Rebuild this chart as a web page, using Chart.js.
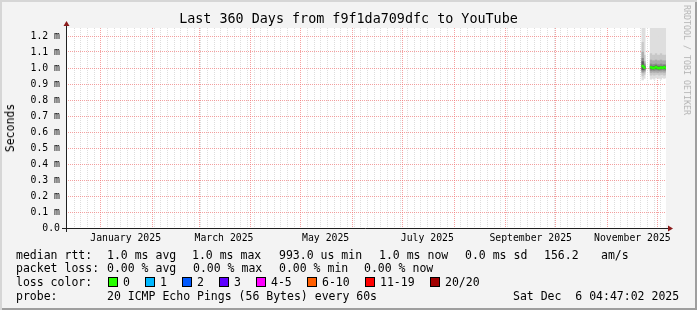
<!DOCTYPE html>
<html>
<head>
<meta charset="utf-8">
<script src="https://cdn.jsdelivr.net/npm/chart.js@4.4.1/dist/chart.umd.min.js"></script>
<style>
  body { margin: 0; background: #f3f3f3; }
  #wrap {
    position: relative; width: 697px; height: 310px; overflow: hidden;
    background: #f3f3f3;
    box-shadow: inset 2px 2px 0 #d6d6d6, inset -2px -2px 0 #9e9e9e;
    font-family: "DejaVu Sans Mono", monospace; color: #000;
  }
  #wrap canvas { position: absolute; left: 0; top: 0; }
  .t { position: absolute; white-space: pre; font-size: 11.5px; line-height: 14px; }
  .box { position: absolute; width: 8px; height: 8px; border: 1px solid #000; }
  .rot { position: absolute; white-space: pre; transform: translate(-50%, -50%) rotate(-90deg); }
</style>
</head>
<body>
<div id="wrap">
  <canvas id="chart" width="697" height="310"></canvas>

  <div class="t" style="left:0;width:697px;top:11px;text-align:center;font-size:13.4px;line-height:16px;">Last 360 Days from f9f1da709dfc to YouTube</div>
  <div class="rot" style="left:10px;top:128px;font-size:11.5px;">Seconds</div>
  <div class="rot" style="left:687px;top:60px;font-size:8.3px;color:#b4b4b4;transform:translate(-50%,-50%) rotate(90deg);">RRDTOOL / TOBI OETIKER</div>

  <!-- legend rows -->
  <div class="t" style="left:16px;top:248px;">median rtt:</div>
  <div class="t" style="left:107px;top:248px;">1.0 ms avg</div>
  <div class="t" style="left:192px;top:248px;">1.0 ms max</div>
  <div class="t" style="left:279px;top:248px;">993.0 us min</div>
  <div class="t" style="left:379px;top:248px;">1.0 ms now</div>
  <div class="t" style="left:465px;top:248px;">0.0 ms sd</div>
  <div class="t" style="left:544px;top:248px;">156.2</div>
  <div class="t" style="left:601px;top:248px;">am/s</div>

  <div class="t" style="left:16px;top:261px;">packet loss:</div>
  <div class="t" style="left:107px;top:261px;">0.00 % avg</div>
  <div class="t" style="left:193px;top:261px;">0.00 % max</div>
  <div class="t" style="left:279px;top:261px;">0.00 % min</div>
  <div class="t" style="left:364px;top:261px;">0.00 % now</div>

  <div class="t" style="left:16px;top:275px;">loss color:</div>
  <div class="box" style="left:108px;top:277px;background:#26ff00;"></div><div class="t" style="left:123px;top:275px;">0</div>
  <div class="box" style="left:145px;top:277px;background:#00b8ff;"></div><div class="t" style="left:160px;top:275px;">1</div>
  <div class="box" style="left:182px;top:277px;background:#0059ff;"></div><div class="t" style="left:197px;top:275px;">2</div>
  <div class="box" style="left:219px;top:277px;background:#5e00ff;"></div><div class="t" style="left:234px;top:275px;">3</div>
  <div class="box" style="left:256px;top:277px;background:#ff00ff;"></div><div class="t" style="left:271px;top:275px;">4-5</div>
  <div class="box" style="left:307px;top:277px;background:#ff5e00;"></div><div class="t" style="left:322px;top:275px;">6-10</div>
  <div class="box" style="left:365px;top:277px;background:#ff0000;"></div><div class="t" style="left:380px;top:275px;">11-19</div>
  <div class="box" style="left:430px;top:277px;background:#a10000;"></div><div class="t" style="left:445px;top:275px;">20/20</div>

  <div class="t" style="left:16px;top:289px;">probe:</div>
  <div class="t" style="left:107px;top:289px;">20 ICMP Echo Pings (56 Bytes) every 60s</div>
  <div class="t" style="left:513px;top:289px;">Sat Dec  6 04:47:02 2025</div>
</div>

<script>
// time window: 360 days ending Sat Dec 6 04:47:02 2025
const startTime = Date.UTC(2024, 11, 11, 4, 47, 2);
const spanDays = 360;

// month grid lines and the two-monthly labels (centred mid month)
const monthStarts = ["2025-01-01", "2025-02-01", "2025-03-01", "2025-04-01", "2025-05-01", "2025-06-01",
  "2025-07-01", "2025-08-01", "2025-09-01", "2025-10-01", "2025-11-01", "2025-12-01"];
const labelDates = ["2025-01-16", "2025-03-16", "2025-05-16", "2025-07-16", "2025-09-16", "2025-11-16"];
const monthLabels = ["January 2025", "March 2025", "May 2025", "July 2025", "September 2025", "November 2025"];
const minorFirst = "2024-12-16"; // minor grid every 4 days from here
const minorStep = 4;

// y axis in milliseconds
const yMax = 1.25;
const yTicks = [0, 0.1, 0.2, 0.3, 0.4, 0.5, 0.6, 0.7, 0.8, 0.9, 1.0, 1.1, 1.2];

// samples (days since start) with smoke bands, ms
const smokeDays = [346, 347, 351, 352, 353, 354, 355, 356, 357, 358, 359, 360];
const medianMs = [1.012, 1.003, 1.004, 1.000, 1.001, 1.006, 1.000, 0.999, 1.003, 1.001, 1.005, 1.000];
const band1Lo = [0.925, 0.935, 0.930, 0.935, 0.930, 0.940, 0.935, 0.935, 0.930, 0.940, 0.935, 0.940];
const band1Hi = [1.35, 1.35, 1.35, 1.35, 1.35, 1.35, 1.35, 1.35, 1.35, 1.35, 1.35, 1.35];
const band2Lo = [0.950, 0.960, 0.955, 0.960, 0.955, 0.960, 0.960, 0.955, 0.960, 0.960, 0.955, 0.960];
const band2Hi = [1.160, 1.080, 1.090, 1.080, 1.080, 1.090, 1.080, 1.080, 1.090, 1.080, 1.080, 1.080];
const band3Lo = [0.970, 0.975, 0.972, 0.975, 0.973, 0.975, 0.972, 0.975, 0.974, 0.975, 0.973, 0.975];
const band3Hi = [1.100, 1.040, 1.050, 1.045, 1.045, 1.050, 1.045, 1.045, 1.050, 1.045, 1.045, 1.045];
const band4Lo = [0.980, 0.985, 0.985, 0.987, 0.985, 0.988, 0.986, 0.985, 0.987, 0.988, 0.986, 0.987];
const band4Hi = [1.060, 1.025, 1.025, 1.020, 1.022, 1.025, 1.020, 1.020, 1.025, 1.020, 1.022, 1.020];
const band5Lo = [0.990, 0.993, 0.995, 0.994, 0.995, 0.996, 0.994, 0.994, 0.995, 0.995, 0.996, 0.994];
const band5Hi = [1.040, 1.012, 1.012, 1.008, 1.010, 1.014, 1.008, 1.007, 1.011, 1.009, 1.013, 1.008];

const dayOf = s => (Date.parse(s + "T00:00:00Z") - startTime) / 86400000;

const majorDays = monthStarts.map(dayOf);
const labelDays = labelDates.map(dayOf);
const minorDays = [];
for (let d = dayOf(minorFirst); d < spanDays; d += minorStep) {
  if (!majorDays.some(m => Math.abs(m - d) < 0.01)) minorDays.push(d);
}

const bandColors = ["#dedede", "#c8c8c8", "#ababab", "#8a8a8a", "#585858"];
const bands = [[band1Lo, band1Hi], [band2Lo, band2Hi], [band3Lo, band3Hi], [band4Lo, band4Hi], [band5Lo, band5Hi]];
const barWidth = 600 / spanDays;

const datasets = bands.map(([lo, hi], i) => ({
  label: "smoke " + i,
  data: smokeDays.map((d, k) => ({ x: d, y: [lo[k], hi[k]] })),
  backgroundColor: bandColors[i],
  order: 10 - i,
}));
datasets.push({
  label: "median rtt",
  data: smokeDays.map((d, k) => ({ x: d, y: [medianMs[k] - 0.006, medianMs[k] + 0.006] })),
  backgroundColor: "#26ff00",
  order: 0,
});
datasets.forEach(ds => Object.assign(ds, {
  grouped: false, barThickness: barWidth, borderWidth: 0, barPercentage: 1, categoryPercentage: 1,
}));

Chart.defaults.font.family = "'DejaVu Sans Mono', monospace";

// white canvas behind the plot
const plotBg = {
  id: "plotBg",
  beforeDraw(chart) {
    const { ctx, chartArea: a } = chart;
    ctx.save();
    ctx.fillStyle = "#ffffff";
    ctx.fillRect(a.left, a.top, a.right - a.left, a.bottom - a.top);
    ctx.restore();
  },
};

// rrdtool style axes with arrow heads
const rrdAxes = {
  id: "rrdAxes",
  afterDraw(chart) {
    const { ctx, chartArea: a } = chart;
    const x0 = a.left + 0.5, y0 = a.bottom + 0.5;
    ctx.save();
    ctx.strokeStyle = "#202020";
    ctx.lineWidth = 1;
    ctx.beginPath();
    ctx.moveTo(a.left - 4, y0); ctx.lineTo(a.right + 3, y0);
    ctx.moveTo(x0, a.bottom + 4); ctx.lineTo(x0, a.top - 2);
    ctx.stroke();
    ctx.fillStyle = "#8b1c1c";
    ctx.beginPath();
    ctx.moveTo(a.right + 7, y0); ctx.lineTo(a.right + 2, y0 - 3); ctx.lineTo(a.right + 2, y0 + 3);
    ctx.closePath(); ctx.fill();
    ctx.beginPath();
    ctx.moveTo(x0, a.top - 7); ctx.lineTo(x0 - 3, a.top - 2); ctx.lineTo(x0 + 3, a.top - 2);
    ctx.closePath(); ctx.fill();
    ctx.restore();
  },
};

new Chart(document.getElementById("chart"), {
  type: "bar",
  data: { datasets },
  options: {
    responsive: false,
    devicePixelRatio: 1,
    animation: false,
    layout: { padding: { top: 28, right: 31, bottom: 0, left: 0 } },
    plugins: { legend: { display: false }, tooltip: { enabled: false } },
    scales: {
      x: {
        type: "linear",
        min: 0,
        max: spanDays,
        offset: false,
        z: 1,
        afterBuildTicks: scale => {
          const t = [
            ...minorDays.map(v => ({ value: v, kind: "minor" })),
            ...majorDays.map(v => ({ value: v, kind: "major" })),
            ...labelDays.map((v, i) => ({ value: v, kind: "label", text: monthLabels[i] })),
          ];
          t.sort((p, q) => p.value - q.value);
          scale.ticks = t;
        },
        afterFit: scale => { scale.height = 82; },
        grid: {
          offset: false,
          drawTicks: false,
          lineWidth: 1,
          color: c => {
            const k = c.tick && c.tick.kind;
            if (k === "major") return "rgba(240,110,110,0.65)";
            if (k === "minor") return "rgba(180,180,180,0.45)";
            return "rgba(0,0,0,0)";
          },
        },
        border: { display: false, dash: [1, 1] },
        ticks: {
          autoSkip: false,
          maxRotation: 0,
          minRotation: 0,
          padding: 5,
          color: "#000",
          font: { size: 9.8 },
          callback: (v, i, ticks) => (ticks[i].kind === "label" ? ticks[i].text : ""),
        },
      },
      y: {
        type: "linear",
        min: 0,
        max: yMax,
        z: 1,
        afterBuildTicks: scale => {
          scale.ticks = yTicks.map(v => ({ value: v }));
        },
        afterFit: scale => { scale.width = 66; },
        grid: { drawTicks: false, color: "rgba(240,110,110,0.65)", lineWidth: 1 },
        border: { display: false, dash: [1, 1] },
        ticks: {
          padding: 6,
          color: "#000",
          font: { size: 9.8 },
          callback: v => (Math.abs(v) < 1e-9 ? "0.0" : v.toFixed(1) + " m"),
        },
      },
    },
  },
  plugins: [plotBg, rrdAxes],
});
</script>
</body>
</html>
